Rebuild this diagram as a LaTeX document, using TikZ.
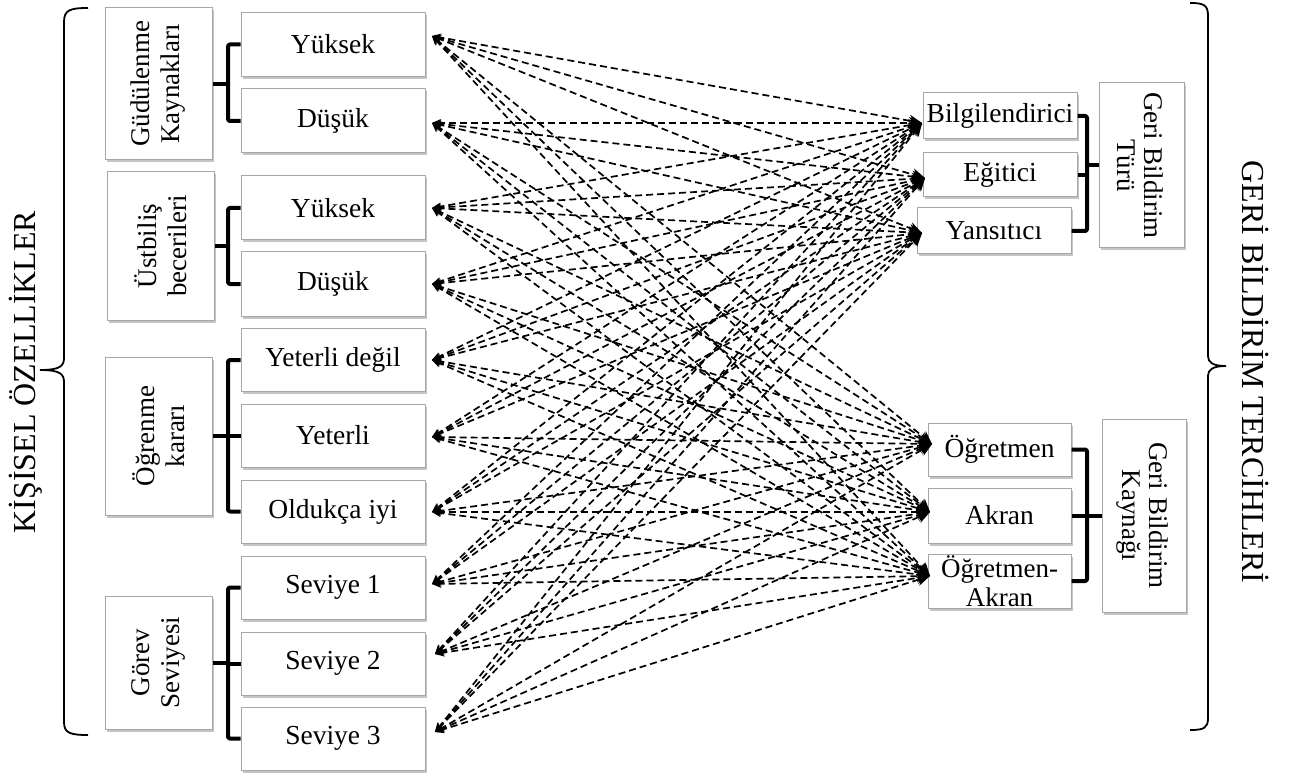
\documentclass[tikz,border=0pt]{standalone}
\usepackage{fontspec}
\setmainfont{Liberation Serif}
\usetikzlibrary{arrows.meta,shadows,calc}
\begin{document}
\begin{tikzpicture}[x=1pt,y=-1pt,
  box/.style={draw=black!35, line width=1pt, fill=white, inner sep=0pt, align=center,
    font=\fontsize{27.5}{30}\selectfont,
    drop shadow={shadow xshift=2pt, shadow yshift=-2.5pt, fill=black!45, opacity=0.5}},
  vtext/.style={inner sep=0pt, align=center, font=\fontsize{27}{30}\selectfont},
  vtextr/.style={inner sep=0pt, align=center, font=\fontsize{27}{27}\selectfont},
  bracket/.style={line width=4pt, line join=round, rounded corners=2pt},
  brace/.style={line width=1.8pt},
  title/.style={inner sep=0pt, font=\fontsize{32}{36}\selectfont},
  conn/.style={line width=1.7pt, dash pattern=on 7pt off 4pt,
    {Stealth[length=9pt,width=8pt]}-{Stealth[length=13pt,width=12pt]}}
]
\useasboundingbox (0,0) rectangle (1296,778);

% category boxes (left)
\node[box, minimum width=107pt, minimum height=152pt] (gk) at (158.5,84) {};
\node[vtext, rotate=90] (gkt) at (gk) {Güdülenme\\Kaynakları};
\node[box, minimum width=107pt, minimum height=148pt] (ub) at (160.5,246) {};
\node[vtext, rotate=90] (ubt) at (ub) {Üstbiliş\\becerileri};
\node[box, minimum width=107pt, minimum height=158pt] (ok) at (158.5,436) {};
\node[vtext, rotate=90] (okt) at (ok) {Öğrenme\\kararı};
\node[box, minimum width=107pt, minimum height=133pt] (gs) at (158.5,662.5) {};
\node[vtext, rotate=90] (gst) at (gs) {Görev\\Seviyesi};

% item boxes (left)
\node[box, minimum width=184pt, minimum height=64pt] (i1) at (333,44.5) {Yüksek};
\node[box, minimum width=184pt, minimum height=64pt] (i2) at (333,121) {Düşük};
\node[box, minimum width=184pt, minimum height=64pt] (i3) at (333,208) {Yüksek};
\node[box, minimum width=184pt, minimum height=64pt] (i4) at (333,284) {Düşük};
\node[box, minimum width=184pt, minimum height=63pt] (i5) at (333,360) {Yeterli değil};
\node[box, minimum width=184pt, minimum height=63pt] (i6) at (333,435.5) {Yeterli};
\node[box, minimum width=184pt, minimum height=63pt] (i7) at (333,511.5) {Oldukça iyi};
\node[box, minimum width=184pt, minimum height=63pt] (i8) at (333,587.5) {Seviye 1};
\node[box, minimum width=184pt, minimum height=63pt] (i9) at (333,663.5) {Seviye 2};
\node[box, minimum width=184pt, minimum height=63pt] (i10) at (333,738.5) {Seviye 3};

% right item boxes
\node[box, minimum width=154pt, minimum height=46pt] (r1) at (1000,116) {Bilgilendirici};
\node[box, minimum width=154pt, minimum height=44pt] (r2) at (1000,175) {Eğitici};
\node[box, minimum width=154pt, minimum height=46pt] (r3) at (994,231) {Yansıtıcı};
\node[box, minimum width=143pt, minimum height=53pt] (r4) at (999.5,449.5) {Öğretmen};
\node[box, minimum width=143pt, minimum height=55pt] (r5) at (999.5,515.5) {Akran};
\node[box, minimum width=143pt, minimum height=54pt, font=\fontsize{27}{29}\selectfont] (r6) at (999.5,581) {Öğretmen-\\Akran};

% right category boxes
\node[box, minimum width=85pt, minimum height=165pt] (tur) at (1141.5,165.5) {};
\node[vtextr, rotate=-90] (turt) at (1140,165.5) {Geri Bildirim\\Türü};
\node[box, minimum width=84pt, minimum height=193pt] (kay) at (1144,515.5) {};
\node[vtextr, rotate=-90] (kayt) at (1142,515.5) {Geri Bildirim\\Kaynağı};

% brackets left
\coordinate (bx) at (228,0);
\foreach \c/\t/\b in {gk/i1/i2, ub/i3/i4, ok/i5/i7, gs/i8/i10}{
  \draw[bracket] (\t.west) -- (\t.west -| bx) -- (\b.west -| bx) -- (\b.west);
  \draw[bracket] (\c.east) -- (\c.east -| bx);
}
\draw[bracket] (i6.west) -- (i6.west -| bx);
\draw[bracket] (i9.west) -- (i9.west -| bx);

% brackets right
\coordinate (rx) at (1087,0);
\draw[bracket] (r1.east) -- (r1.east -| rx) -- (r3.east -| rx) -- (r3.east);
\draw[bracket] (r2.east) -- (r2.east -| rx);
\draw[bracket] (tur.west) -- (tur.west -| rx);
\draw[bracket] (r4.east) -- (r4.east -| rx) -- (r6.east -| rx) -- (r6.east);
\draw[bracket] (r5.east) -- (r5.east -| rx);
\draw[bracket] (kay.west) -- (kay.west -| rx);

% connector end points
\coordinate (L1) at (432,36);
\coordinate (L2) at (432,123);
\coordinate (L3) at (432,208);
\coordinate (L4) at (432,284);
\coordinate (L5) at (432,360);
\coordinate (L6) at (432,437);
\coordinate (L7) at (432,512);
\coordinate (L8) at (432,584);
\coordinate (L9) at (435,654);
\coordinate (L10) at (435,732);
\coordinate (R1) at (922,123);
\coordinate (R2) at (925,178);
\coordinate (R3) at (922,233);
\coordinate (R4) at (932,444);
\coordinate (R5) at (930,512);
\coordinate (R6) at (930,576);

\foreach \i in {1,...,10}{
  \foreach \j in {1,...,6}{
    \draw[conn] (L\i) -- (R\j);
  }
}

% braces
\draw[brace] (88,8) .. controls (70,8) and (64,10) .. (64,22) -- (64,358)
  .. controls (64,366) and (60,370) .. (40,370)
  .. controls (60,370) and (64,374) .. (64,382) -- (64,722)
  .. controls (64,733) and (70,735) .. (88,735);
\draw[brace] (1190,3) .. controls (1204,3) and (1208,5) .. (1208,16) -- (1208,356)
  .. controls (1208,362) and (1212,366) .. (1226,366)
  .. controls (1212,366) and (1208,370) .. (1208,376) -- (1208,718)
  .. controls (1208,728) and (1204,730) .. (1190,730);

% titles
\node[title, rotate=90, anchor=base] (tl) at (35,372) {KİŞİSEL ÖZELLİKLER};
\node[title, rotate=-90, anchor=base] (tr) at (1242,372) {GERİ BİLDİRİM TERCİHLERİ};
\end{tikzpicture}
\end{document}
